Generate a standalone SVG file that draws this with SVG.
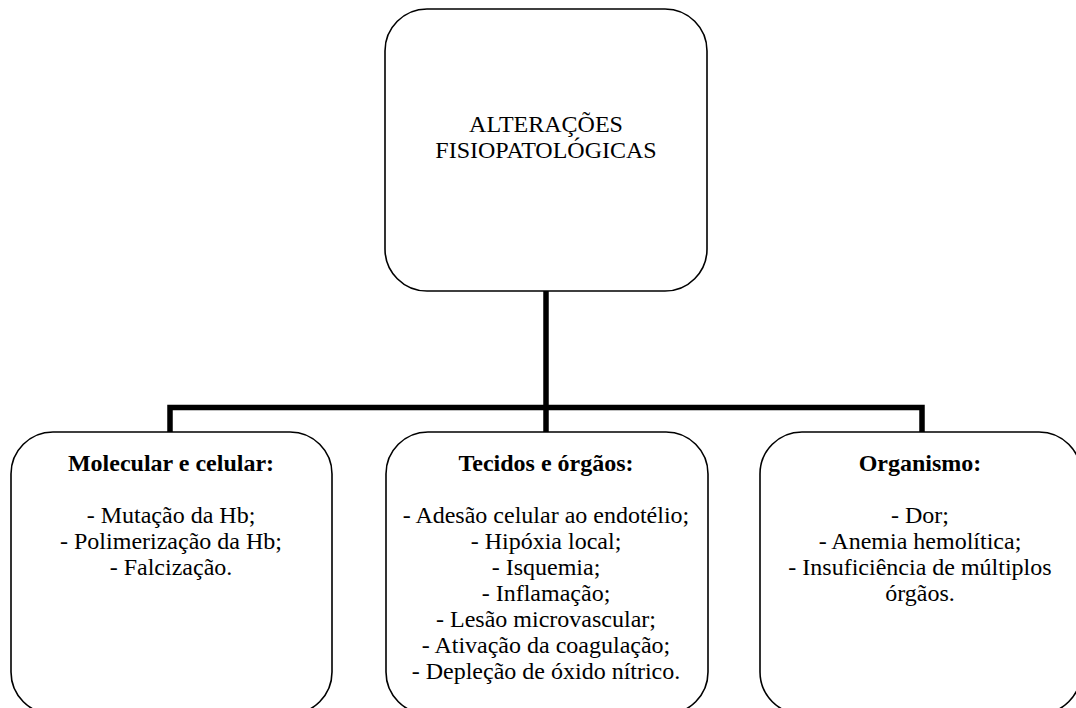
<svg xmlns="http://www.w3.org/2000/svg" width="1076" height="708" viewBox="0 0 1076 708">
<style>
.box{fill:#fff;stroke:#000;stroke-width:1.6}
.conn{fill:none;stroke:#000;stroke-width:5.5;stroke-linejoin:miter}
.b{font-weight:bold}
</style>
<rect width="1076" height="708" fill="#fff"/>
<g id="connectors">
<path class="conn" d="M170,432 V407.5 H922 V432"/>
<path class="conn" d="M546,291 V432"/>
</g>
<g font-family="'Liberation Serif', 'Times New Roman', Times, 'DejaVu Serif', serif" font-size="24" fill="#000" text-anchor="middle">
<g id="node-top">
<rect class="box" x="385" y="9" width="322" height="282" rx="42" ry="42"/>
<text x="546" y="132">ALTERAÇÕES</text>
<text x="546" y="157.5">FISIOPATOLÓGICAS</text>
</g>
<g id="node-molecular">
<rect class="box" x="11" y="432" width="321" height="282" rx="42" ry="42"/>
<text class="b" x="171" y="471">Molecular e celular:</text>
<text x="171" y="523">- Mutação da Hb;</text>
<text x="171" y="549">- Polimerização da Hb;</text>
<text x="171" y="575">- Falcização.</text>
</g>
<g id="node-tecidos">
<rect class="box" x="386" y="432" width="322" height="282" rx="42" ry="42"/>
<text class="b" x="546" y="471">Tecidos e órgãos:</text>
<text x="546" y="523">- Adesão celular ao endotélio;</text>
<text x="546" y="549">- Hipóxia local;</text>
<text x="546" y="575">- Isquemia;</text>
<text x="546" y="601">- Inflamação;</text>
<text x="546" y="627">- Lesão microvascular;</text>
<text x="546" y="653">- Ativação da coagulação;</text>
<text x="546" y="679">- Depleção de óxido nítrico.</text>
</g>
<g id="node-organismo">
<rect class="box" x="760" y="432" width="321" height="282" rx="42" ry="42"/>
<text class="b" x="920" y="471">Organismo:</text>
<text x="920" y="523">- Dor;</text>
<text x="920" y="549">- Anemia hemolítica;</text>
<text x="920" y="575">- Insuficiência de múltiplos</text>
<text x="920" y="601">órgãos.</text>
</g>
</g>
</svg>
